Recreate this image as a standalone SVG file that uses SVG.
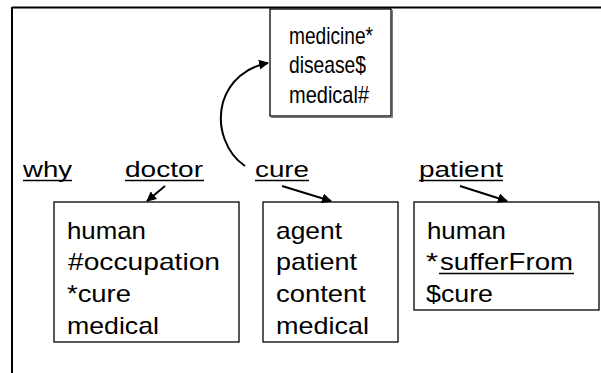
<svg xmlns="http://www.w3.org/2000/svg" width="601" height="373" viewBox="0 0 601 373">
<defs>
<marker id="ah" viewBox="0 0 10 10" refX="9" refY="5" markerWidth="10" markerHeight="10" markerUnits="userSpaceOnUse" orient="auto">
<path d="M0,0 L10,5 L0,10 z" fill="#000"/>
</marker>
</defs>
<style>
.box{fill:#fff;stroke:#000;stroke-width:1.3}
.shadow{fill:none;stroke:#777;stroke-width:1}
.t{font-family:"Liberation Sans",Arial,sans-serif;font-size:24px;fill:#000}
.lb{font-family:"Liberation Sans",Arial,sans-serif;font-size:22px;fill:#000}
.ul{stroke:#000;stroke-width:1.5}
.con{fill:none;stroke:#000;stroke-width:2}
</style>
<rect width="601" height="373" fill="#fff"/>
<g id="frame">
<line x1="12" y1="7.5" x2="601" y2="7.5" stroke="#000" stroke-width="2"/>
<line x1="12" y1="7" x2="12" y2="373" stroke="#000" stroke-width="2"/>
</g>
<g id="top-box">
<polyline class="shadow" points="392.5,10 392.5,117.5 271,117.5"/>
<rect class="box" x="270" y="9" width="121" height="107"/>
<text class="t" x="289" y="44" textLength="84" lengthAdjust="spacingAndGlyphs" font-size="21">medicine*</text>
<text class="t" x="289" y="73" textLength="77" lengthAdjust="spacingAndGlyphs" font-size="21">disease$</text>
<text class="t" x="289" y="103" textLength="80" lengthAdjust="spacingAndGlyphs" font-size="21">medical#</text>
</g>
<g id="label-why">
<text class="lb" x="23" y="177" textLength="49" lengthAdjust="spacingAndGlyphs">why</text>
<line class="ul" x1="23" y1="180.5" x2="72" y2="180.5"/>
</g>
<g id="label-doctor">
<text class="lb" x="125" y="177" textLength="78" lengthAdjust="spacingAndGlyphs">doctor</text>
<line class="ul" x1="125" y1="180.5" x2="204" y2="180.5"/>
</g>
<g id="label-cure">
<text class="lb" x="255" y="177" textLength="54" lengthAdjust="spacingAndGlyphs">cure</text>
<line class="ul" x1="255" y1="180.5" x2="309" y2="180.5"/>
</g>
<g id="label-patient">
<text class="lb" x="419" y="177" textLength="84" lengthAdjust="spacingAndGlyphs">patient</text>
<line class="ul" x1="419" y1="180.5" x2="503" y2="180.5"/>
</g>
<g id="doctor-box">
<rect class="box" x="54" y="202" width="185" height="140"/>
<text class="t" x="67" y="239" textLength="79" lengthAdjust="spacingAndGlyphs">human</text>
<text class="t" x="68" y="270" textLength="152" lengthAdjust="spacingAndGlyphs">#occupation</text>
<text class="t" x="67" y="302" textLength="64" lengthAdjust="spacingAndGlyphs">*cure</text>
<text class="t" x="67" y="334" textLength="92" lengthAdjust="spacingAndGlyphs">medical</text>
</g>
<g id="cure-box">
<rect class="box" x="263" y="202" width="135" height="140"/>
<text class="t" x="276" y="239" textLength="66" lengthAdjust="spacingAndGlyphs">agent</text>
<text class="t" x="276" y="270" textLength="81" lengthAdjust="spacingAndGlyphs">patient</text>
<text class="t" x="276" y="302" textLength="90" lengthAdjust="spacingAndGlyphs">content</text>
<text class="t" x="276" y="334" textLength="93" lengthAdjust="spacingAndGlyphs">medical</text>
</g>
<g id="patient-box">
<rect class="box" x="414" y="202" width="185" height="108"/>
<text class="t" x="427" y="239" textLength="79" lengthAdjust="spacingAndGlyphs">human</text>
<text class="t" x="426" y="270" textLength="12" lengthAdjust="spacingAndGlyphs">*</text>
<text class="t" x="440" y="270" textLength="133" lengthAdjust="spacingAndGlyphs">sufferFrom</text>
<line class="ul" x1="439" y1="273.5" x2="574" y2="273.5"/>
<text class="t" x="426" y="302" textLength="67" lengthAdjust="spacingAndGlyphs">$cure</text>
</g>
<g id="connectors">
<path class="con" d="M245,166 C227,154 216,128 223,102 C230,80 247,67 268,63" marker-end="url(#ah)"/>
<line class="con" x1="165" y1="186" x2="147" y2="201" marker-end="url(#ah)"/>
<line class="con" x1="282" y1="186" x2="331" y2="201" marker-end="url(#ah)"/>
<line class="con" x1="460" y1="186" x2="507" y2="201" marker-end="url(#ah)"/>
</g>
</svg>
